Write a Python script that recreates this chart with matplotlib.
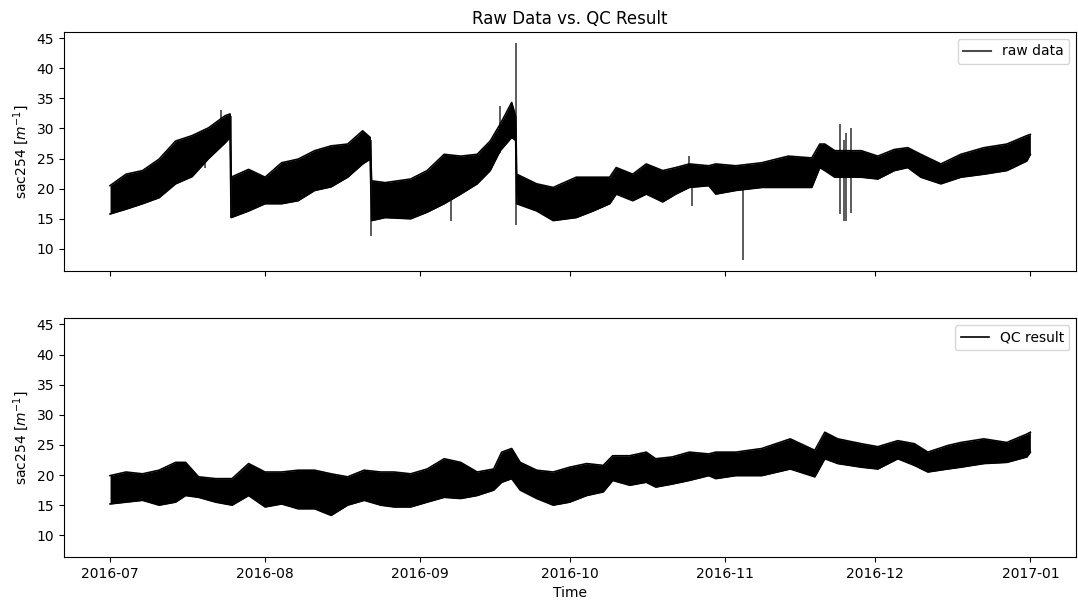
import numpy as np
import pandas as pd
import matplotlib
matplotlib.use("Agg")
import matplotlib.pyplot as plt

start = pd.Timestamp("2016-07-01")

# raw series: envelope (days since start, low, high)
raw_days = [0.0, 3.2, 6.5, 9.8, 13.1, 16.4, 19.7, 23.0, 24.0, 24.2, 27.7, 31.0, 34.3,
            37.6, 40.9, 44.2, 47.5, 50.5, 52.0, 52.3, 55.0, 60.1, 63.4, 66.8, 70.1,
            73.4, 76.0, 78.0, 80.3, 81.1, 81.3, 85.3, 88.6, 93.2, 96.6, 99.9, 101.2,
            104.5, 107.2, 110.5, 113.1, 115.8, 119.7, 121.1, 125.1, 130.3, 135.6,
            140.3, 141.9, 142.9, 144.9, 150.2, 153.5, 156.8, 159.5, 162.1, 166.1,
            170.1, 174.7, 179.3, 183.3, 184.0]
raw_low = [15.8, 16.6, 17.5, 18.5, 20.8, 22.0, 25.0, 27.6, 28.5, 15.2, 16.3, 17.5, 17.5,
           18.0, 19.7, 20.3, 21.9, 24.1, 24.9, 14.7, 15.2, 15.0, 16.1, 17.5, 19.1,
           20.8, 23.0, 26.3, 28.5, 28.0, 17.5, 16.3, 14.7, 15.2, 16.3, 17.5, 19.1,
           18.0, 19.1, 17.8, 19.1, 20.2, 20.5, 19.1, 19.7, 20.2, 20.2,
           20.2, 23.5, 23.0, 21.9, 21.9, 21.6, 23.0, 23.5, 21.9, 20.8,
           21.9, 22.4, 23.0, 24.6, 25.7]
raw_high = [20.5, 22.4, 23.0, 24.9, 27.9, 28.8, 30.1, 32.1, 32.4, 21.9, 23.2, 21.9, 24.3,
            24.9, 26.3, 27.1, 27.4, 29.6, 28.5, 21.3, 21.0, 21.6, 23.0, 25.7, 25.4,
            25.7, 27.9, 30.7, 34.3, 32.0, 22.4, 20.8, 20.2, 21.9, 21.9, 21.9, 23.5,
            22.4, 24.1, 23.0, 23.5, 24.1, 23.8, 24.1, 23.8, 24.3, 25.4,
            25.1, 27.4, 27.4, 26.3, 26.3, 25.4, 26.5, 26.8, 25.7, 24.1,
            25.7, 26.8, 27.4, 28.8, 29.0]

# isolated spikes in the raw series
spike_days = [18.9, 22.2, 24.1, 52.15, 68.2, 78.0, 81.2, 115.8, 116.3, 126.6,
              146.0, 146.8, 147.2, 148.2]
spike_low = [23.5, 28.0, 15.2, 12.2, 14.7, 26.0, 13.9, 20.5, 17.2, 8.2,
             15.8, 14.7, 14.7, 15.9]
spike_high = [27.0, 33.0, 32.0, 28.0, 20.0, 33.7, 44.2, 25.4, 22.0, 23.0,
              30.8, 28.0, 29.3, 30.1]

# QC result envelope
qc_days = [0.0, 3.2, 6.5, 9.8, 13.1, 15.1, 17.7, 21.1, 24.4, 27.7, 31.0, 34.3, 37.6,
           40.9, 44.2, 47.5, 50.8, 54.1, 56.8, 60.1, 63.4, 66.8, 70.1, 73.4, 76.7,
           78.3, 80.3, 82.0, 85.3, 88.6, 91.9, 95.3, 98.6, 100.5, 103.9, 107.2,
           109.1, 112.4, 115.8, 119.7, 121.1, 125.1, 130.3, 136.0, 140.9, 142.9,
           145.5, 150.2, 153.5, 157.5, 160.8, 163.5, 167.5, 170.1, 174.7, 179.3,
           183.3, 184.0]
qc_low = [15.2, 15.5, 15.8, 15.0, 15.5, 16.6, 16.3, 15.5, 15.0, 16.6, 14.7, 15.2, 14.4,
          14.4, 13.3, 15.0, 15.8, 15.0, 14.7, 14.7, 15.5, 16.3, 16.1, 16.6, 17.5,
          18.8, 19.4, 17.5, 16.1, 15.0, 15.5, 16.6, 17.2, 19.1, 18.3, 18.8,
          18.0, 18.5, 19.1, 19.9, 19.4, 19.9, 19.9, 21.0, 19.7, 22.7,
          21.9, 21.3, 21.0, 22.7, 21.6, 20.5, 21.0, 21.3, 21.9, 22.1,
          23.0, 23.8]
qc_high = [19.9, 20.5, 20.2, 20.8, 22.1, 22.1, 19.7, 19.4, 19.4, 21.9, 20.5, 20.5, 20.8,
           20.8, 20.2, 19.7, 20.8, 20.5, 20.5, 20.2, 21.0, 22.7, 22.1, 20.5, 21.0,
           23.8, 24.4, 22.1, 20.8, 20.5, 21.3, 21.9, 21.6, 23.2, 23.2, 23.8,
           22.7, 23.0, 23.8, 23.5, 23.8, 23.8, 24.4, 26.0, 24.1, 27.1,
           26.0, 25.2, 24.7, 25.7, 25.2, 23.8, 24.9, 25.4, 26.0, 25.4,
           26.8, 27.1]


def to_dates(days):
    return start + pd.to_timedelta(np.array(days), unit="D")


fig, (ax1, ax2) = plt.subplots(2, 1, figsize=(10.78, 6.0), dpi=100, sharex=True, sharey=True)
fig.subplots_adjust(left=0.0594, right=0.9985, top=0.9467, bottom=0.0717, hspace=0.2)

# raw data
t = to_dates(raw_days)
ax1.fill_between(t, raw_low, raw_high, color="black", lw=0)
ax1.plot(t, raw_low, color="black", lw=1.2)
ax1.plot(t, raw_high, color="black", lw=1.2)
ax1.vlines(to_dates(spike_days), spike_low, spike_high, color="black", alpha=0.75, lw=1.2)
ax1.plot([], [], color="black", alpha=0.7, lw=1.5, label="raw data")
ax1.legend(loc="upper right")
ax1.set_title("Raw Data vs. QC Result")
ax1.set_ylabel("sac254 [$m^{-1}$]")

# QC result
t2 = to_dates(qc_days)
ax2.fill_between(t2, qc_low, qc_high, color="black", lw=0)
ax2.plot(t2, qc_low, color="black", lw=1.2)
ax2.plot(t2, qc_high, color="black", lw=1.2, label="QC result")
ax2.legend(loc="upper right")
ax2.set_ylabel("sac254 [$m^{-1}$]")
ax2.set_xlabel("Time")

fig.savefig("out.png", dpi=100)
